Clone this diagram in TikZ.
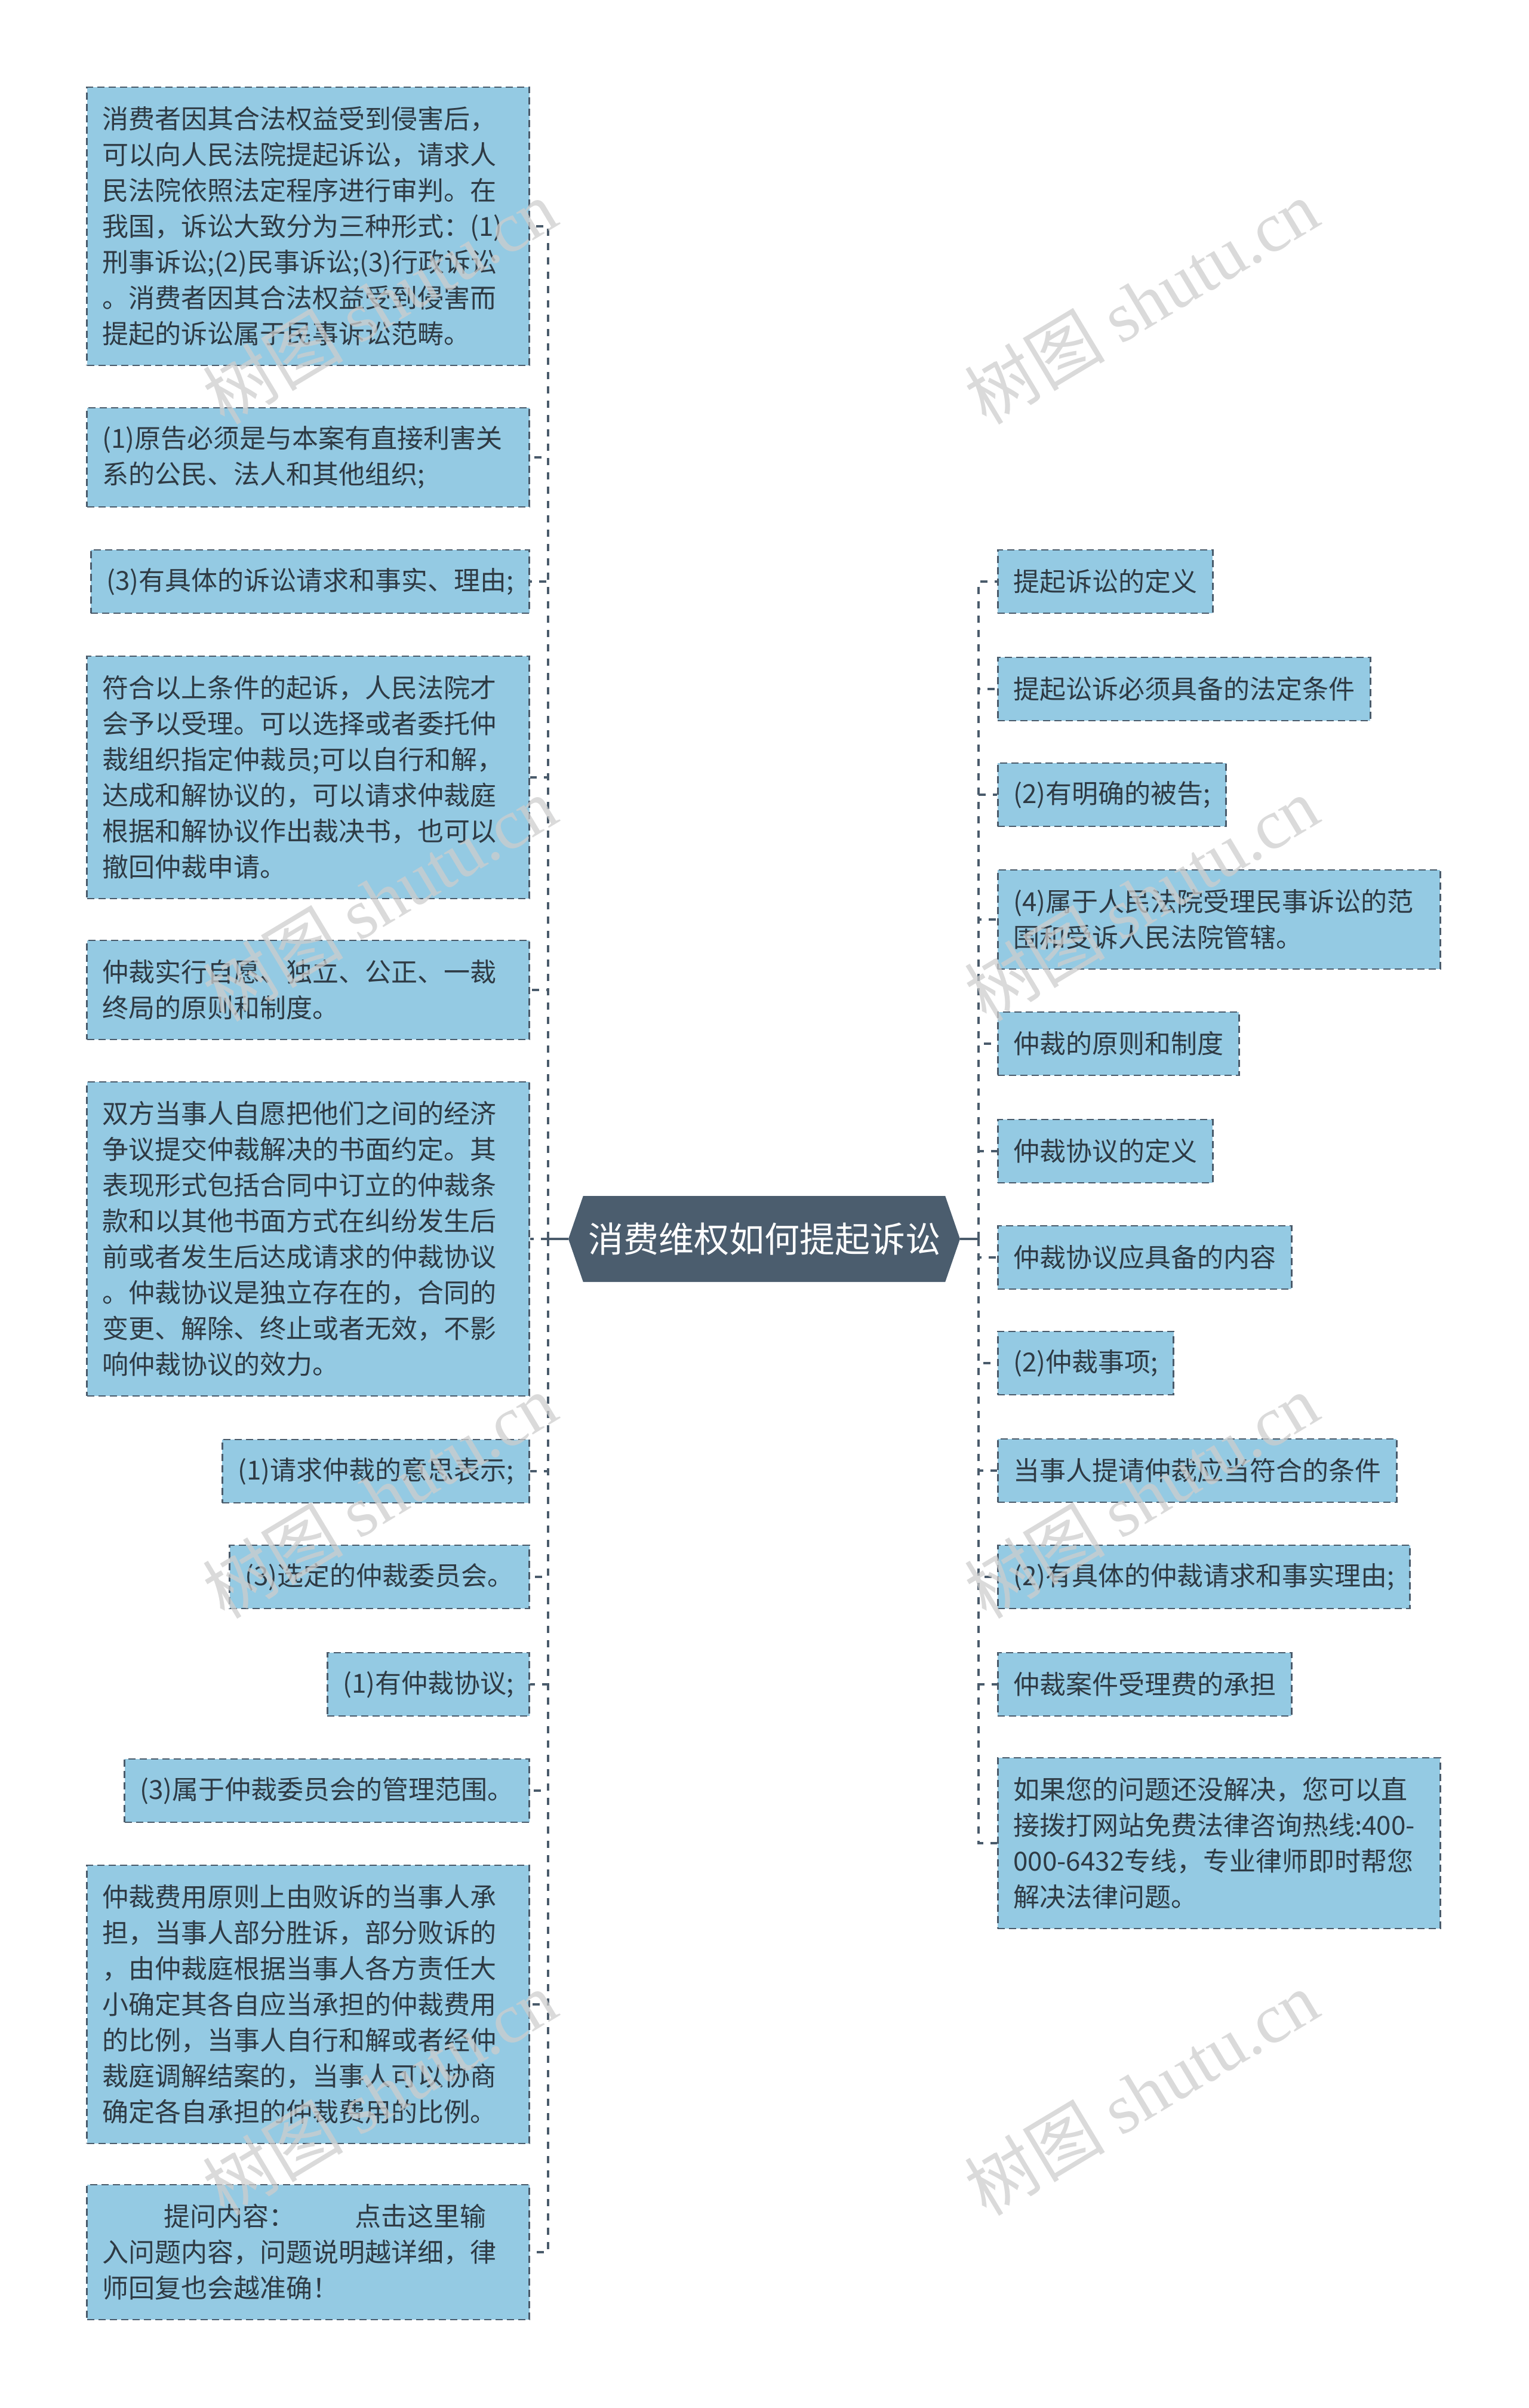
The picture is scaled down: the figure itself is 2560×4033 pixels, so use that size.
\documentclass[tikz,border=0pt]{standalone}
\usepackage{fontspec}
\setmainfont{Noto Sans CJK SC}
\newfontfamily\wmlatin{Liberation Serif}
\usetikzlibrary{shapes.symbols}
\definecolor{boxfill}{HTML}{94CAE3}
\definecolor{edgec}{HTML}{4A5B6B}
\definecolor{txtc}{HTML}{2E3A44}
\definecolor{hubc}{HTML}{4B5D6E}
\definecolor{wmc}{HTML}{CDCDCD}
\begin{document}
\begin{tikzpicture}[x=1pt,y=-1pt,
  box/.style={draw=edgec, line width=2.6pt, dash pattern=on 12pt off 7pt, fill=boxfill,
    text=txtc, font=\fontsize{44}{60}\selectfont, inner xsep=26pt, inner ysep=8pt, align=left},
  wide/.style={text width=689pt},
  lbox/.style={box, anchor=east},
  rbox/.style={box, anchor=west},
  h1/.style={minimum height=106pt},
  h2/.style={minimum height=166pt},
  h3/.style={minimum height=226pt},
  h4/.style={minimum height=286pt},
  h6/.style={minimum height=406pt},
  h7/.style={minimum height=466pt},
  h8/.style={minimum height=526pt},
  hub/.style={signal, signal to=west and east, signal pointer angle=142, fill=hubc,
    text=white, font=\fontsize{59}{70}\selectfont, minimum width=656pt, minimum height=144pt,
    inner xsep=4pt, inner ysep=0pt},
  conn/.style={draw=edgec, line width=4.5pt, dash pattern=on 12pt off 12pt},
  trunk/.style={draw=edgec, line width=4.5pt},
  wm/.style={rotate=31, text=wmc, opacity=0.75, font=\fontsize{118}{130}\selectfont, inner sep=0pt}
]
\useasboundingbox (0,0) rectangle (2560,4033);

% central node
\node[hub] (c) at (1280,2075) {消费维权如何提起诉讼};
\coordinate (lsp) at (918,2075);
\coordinate (rsp) at (1639,2075);

% left boxes
\node[lbox, wide, h7] (l1) at (888,379) {消费者因其合法权益受到侵害后，\\可以向人民法院提起诉讼，请求人\\民法院依照法定程序进行审判。在\\我国，诉讼大致分为三种形式：(1)\\刑事诉讼;(2)民事诉讼;(3)行政诉讼\\。消费者因其合法权益受到侵害而\\提起的诉讼属于民事诉讼范畴。};
\node[lbox, wide, h2] (l2) at (888,766) {(1)原告必须是与本案有直接利害关\\系的公民、法人和其他组织;};
\node[lbox, h1] (l3) at (888,974) {(3)有具体的诉讼请求和事实、理由;};
\node[lbox, wide, h6] (l4) at (888,1302) {符合以上条件的起诉，人民法院才\\会予以受理。可以选择或者委托仲\\裁组织指定仲裁员;可以自行和解，\\达成和解协议的，可以请求仲裁庭\\根据和解协议作出裁决书，也可以\\撤回仲裁申请。};
\node[lbox, wide, h2] (l5) at (888,1658) {仲裁实行自愿、独立、公正、一裁\\终局的原则和制度。};
\node[lbox, wide, h8] (l6) at (888,2075) {双方当事人自愿把他们之间的经济\\争议提交仲裁解决的书面约定。其\\表现形式包括合同中订立的仲裁条\\款和以其他书面方式在纠纷发生后\\前或者发生后达成请求的仲裁协议\\。仲裁协议是独立存在的，合同的\\变更、解除、终止或者无效，不影\\响仲裁协议的效力。};
\node[lbox, h1] (l7) at (888,2464) {(1)请求仲裁的意思表示;};
\node[lbox, h1] (l8) at (888,2641) {(3)选定的仲裁委员会。};
\node[lbox, h1] (l9) at (888,2821) {(1)有仲裁协议;};
\node[lbox, h1] (l10) at (888,2999) {(3)属于仲裁委员会的管理范围。};
\node[lbox, wide, h7] (l11) at (888,3357) {仲裁费用原则上由败诉的当事人承\\担，当事人部分胜诉，部分败诉的\\，由仲裁庭根据当事人各方责任大\\小确定其各自应当承担的仲裁费用\\的比例，当事人自行和解或者经仲\\裁庭调解结案的，当事人可以协商\\确定各自承担的仲裁费用的比例。};
\node[lbox, wide, h3] (l12) at (888,3772) {\hspace*{103pt}提问内容：\hspace{100pt}点击这里输\\入问题内容，问题说明越详细，律\\师回复也会越准确！};

% right boxes
\node[rbox, h1] (r1) at (1670,974) {提起诉讼的定义};
\node[rbox, h1] (r2) at (1670,1154) {提起讼诉必须具备的法定条件};
\node[rbox, h1] (r3) at (1670,1331) {(2)有明确的被告;};
\node[rbox, wide, h2] (r4) at (1670,1540) {(4)属于人民法院受理民事诉讼的范\\围和受诉人民法院管辖。};
\node[rbox, h1] (r5) at (1670,1748) {仲裁的原则和制度};
\node[rbox, h1] (r6) at (1670,1928) {仲裁协议的定义};
\node[rbox, h1] (r7) at (1670,2106) {仲裁协议应具备的内容};
\node[rbox, h1] (r8) at (1670,2283) {(2)仲裁事项;};
\node[rbox, h1] (r9) at (1670,2463) {当事人提请仲裁应当符合的条件};
\node[rbox, h1] (r10) at (1670,2641) {(2)有具体的仲裁请求和事实理由;};
\node[rbox, h1] (r11) at (1670,2821) {仲裁案件受理费的承担};
\node[rbox, wide, h4] (r12) at (1670,3087) {如果您的问题还没解决，您可以直\\接拨打网站免费法律咨询热线:400-\\000-6432专线，专业律师即时帮您\\解决法律问题。};

% connectors
\draw[trunk] (c.west) -- (lsp);
\draw[trunk] (c.east) -- (rsp);
\foreach \i in {1,...,12} {
  \draw[conn] (lsp) |- (l\i.east);
  \draw[conn] (rsp) |- (r\i.west);
}

% watermarks
\node[wm] (w1) at (636,505) {树图 {\wmlatin shutu.cn}};
\node[wm] (w2) at (1912,505) {树图 {\wmlatin shutu.cn}};
\node[wm] (w3) at (636,1505) {树图 {\wmlatin shutu.cn}};
\node[wm] (w4) at (1912,1505) {树图 {\wmlatin shutu.cn}};
\node[wm] (w5) at (636,2505) {树图 {\wmlatin shutu.cn}};
\node[wm] (w6) at (1912,2505) {树图 {\wmlatin shutu.cn}};
\node[wm] (w7) at (636,3505) {树图 {\wmlatin shutu.cn}};
\node[wm] (w8) at (1912,3505) {树图 {\wmlatin shutu.cn}};
\end{tikzpicture}
\end{document}
